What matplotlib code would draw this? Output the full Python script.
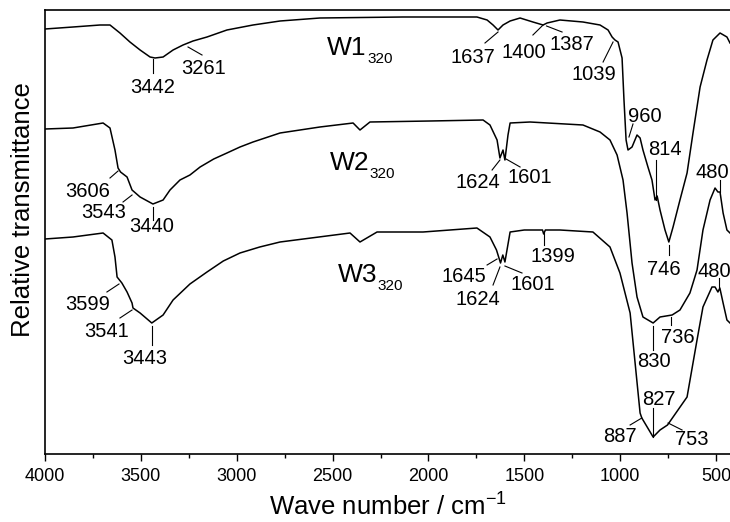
import numpy as np
import matplotlib.pyplot as plt

plt.rcParams['font.family'] = ['Liberation Sans', 'DejaVu Sans']

# wave number (cm-1) and relative transmittance (arbitrary units)
w1_wn = [4000, 3854, 3713, 3661, 3609, 3557, 3504, 3452, 3426, 3384, 3332, 3280, 3228,
         3155, 3051, 2915, 2774, 2566, 2133, 1747, 1694, 1663, 1637, 1611, 1574, 1522,
         1455, 1402, 1381, 1314, 1194, 1105, 1063, 1042, 1027, 1011, 990, 980, 969, 959,
         938, 912, 896, 881, 855, 834, 818, 807, 792, 766, 746, 724, 688, 651, 620, 583,
         547, 516, 479, 443, 427]
w1_t = [425, 427, 429, 429, 421, 412, 404, 397, 396, 397, 404, 409, 413,
        417, 424, 429, 433, 436, 437, 437, 434, 429, 424, 429, 433, 436,
        432, 429, 431, 434, 432, 429, 424, 417, 414, 412, 396, 354, 314, 304,
        307, 319, 316, 304, 287, 274, 254, 258, 244, 224, 212, 227, 254, 281, 321, 367,
        394, 414, 421, 417, 411]

w2_wn = [4000, 3854, 3697, 3661, 3635, 3619, 3606, 3572, 3546, 3504, 3437, 3384, 3348,
         3296, 3244, 3191, 3120, 3051, 2983, 2915, 2774, 2566, 2393, 2357, 2305, 1992,
         1715, 1679, 1642, 1627, 1611, 1601, 1585, 1574, 1470, 1194, 1105, 1053, 1016,
         985, 964, 938, 912, 881, 828, 792, 729, 688, 636, 599, 568, 531, 505, 490, 479,
         463, 443, 427]
w2_t = [325, 326, 331, 326, 304, 286, 282, 277, 264, 257, 250, 254, 264,
        274, 279, 287, 295, 301, 307, 312, 321, 327, 331, 324, 332, 333,
        334, 329, 314, 296, 304, 294, 319, 331, 332, 329, 322, 314, 299,
        274, 241, 191, 157, 137, 131, 137, 139, 144, 161, 184, 224, 254, 266, 262, 262,
        241, 224, 221]

w3_wn = [4000, 3854, 3697, 3651, 3635, 3624, 3599, 3572, 3546, 3541, 3504, 3443, 3384,
         3332, 3244, 3155, 3070, 2983, 2880, 2774, 2409, 2357, 2268, 2028, 1747, 1679,
         1645, 1624, 1612, 1601, 1574, 1500, 1405, 1399, 1390, 1314, 1142, 1053, 1001,
         948, 922, 896, 887, 828, 792, 753, 651, 599, 568, 521, 505, 490, 480, 463, 443,
         427]
w3_t = [215, 217, 221, 214, 197, 177, 171, 162, 151, 146, 141, 131, 139,
        154, 170, 182, 193, 201, 207, 212, 221, 212, 222, 222, 226, 217,
        204, 191, 199, 192, 222, 224, 224, 220, 224, 224, 222, 207, 181,
        141, 91, 41, 36, 17, 24, 29, 57, 114, 147, 167, 167, 162, 166, 151, 134,
        131]

# sample names: (name, subscript, left edge wn, baseline T, subscript wn, subscript T)
names = [('W1', '320', 2529, 399, 2320, 391),
         ('W2', '320', 2513, 284, 2310, 276),
         ('W3', '320', 2472, 172, 2268, 164)]

# band labels: text, leader line (wn0, T0, wn1, T1), text centre wn, text baseline T
bands = [
    ('3442', 3437, 395, 3437, 381, 3437, 361),
    ('3261', 3254, 407, 3181, 399, 3171, 380),
    ('1637', 1637, 422, 1705, 411, 1767, 391),
    ('1400', 1402, 429, 1455, 419, 1504, 396),
    ('1387', 1384, 428, 1303, 422, 1251, 404),
    ('1039', 1037, 412, 1089, 392, 1139, 374),
    ('960', 954, 317, 933, 330, 870, 332),
    ('814', 813, 294, 813, 254, 766, 299),
    ('746', 746, 209, 746, 199, 771, 179),
    ('3606', 3619, 283, 3661, 276, 3778, 257),
    ('3543', 3546, 259, 3593, 252, 3692, 236),
    ('3440', 3437, 247, 3437, 234, 3445, 222),
    ('1624', 1627, 294, 1668, 284, 1744, 266),
    ('1601', 1595, 295, 1522, 287, 1470, 271),
    ('480', 479, 274, 479, 262, 518, 276),
    ('830', 828, 128, 828, 104, 823, 87),
    ('736', 736, 137, 736, 129, 698, 111),
    ('3599', 3614, 170, 3677, 162, 3778, 144),
    ('3541', 3546, 144, 3609, 136, 3679, 117),
    ('3443', 3443, 128, 3443, 109, 3481, 90),
    ('1645', 1642, 195, 1694, 189, 1814, 172),
    ('1624', 1627, 187, 1663, 169, 1741, 149),
    ('1601', 1601, 188, 1512, 181, 1457, 164),
    ('1399', 1399, 221, 1399, 209, 1348, 192),
    ('480', 484, 176, 484, 167, 510, 177),
    ('827', 828, 46, 828, 17, 797, 49),
    ('887', 887, 36, 948, 29, 1001, 12),
    ('753', 750, 31, 677, 24, 628, 9),
]

fig = plt.figure(figsize=(7.3, 5.22), dpi=100)
ax = fig.add_axes([45 / 730, 1 - 454 / 522, 685 / 730, 444 / 522])

for wn, t in [(w1_wn, w1_t), (w2_wn, w2_t), (w3_wn, w3_t)]:
    ax.plot(wn, t, color='black', lw=1.1)

for name, sub, x, y, xs, ys in names:
    ax.text(x, y, name, fontsize=19, ha='left', va='baseline')
    ax.text(xs, ys, sub, fontsize=11, ha='left', va='baseline')

for lab, x0, y0, x1, y1, tx, ty in bands:
    ax.plot([x0, x1], [y0, y1], color='black', lw=0.8)
    ax.text(tx, ty, lab, fontsize=14.5, ha='center', va='baseline')

ax.set_xlim(4000, 427)
ax.set_ylim(0, 444)
ax.set_xticks(np.arange(4000, 400, -500))
ax.set_xticks(np.arange(3750, 400, -500), minor=True)
ax.set_yticks([])
ax.tick_params(axis='x', which='major', direction='out', length=5, width=1, labelsize=13, pad=5)
ax.tick_params(axis='x', which='minor', direction='out', length=3, width=1)
ax.spines['right'].set_visible(False)
for s in ['left', 'top', 'bottom']:
    ax.spines[s].set_linewidth(1.2)

ax.set_xlabel(r'Wave number / cm$\mathregular{^{-1}}$', fontsize=18.5, labelpad=6)
fig.text(23 / 730, 1 - 210 / 522, 'Relative transmittance', rotation=90,
         fontsize=18.5, ha='center', va='center')

fig.savefig('out.png', dpi=100)
